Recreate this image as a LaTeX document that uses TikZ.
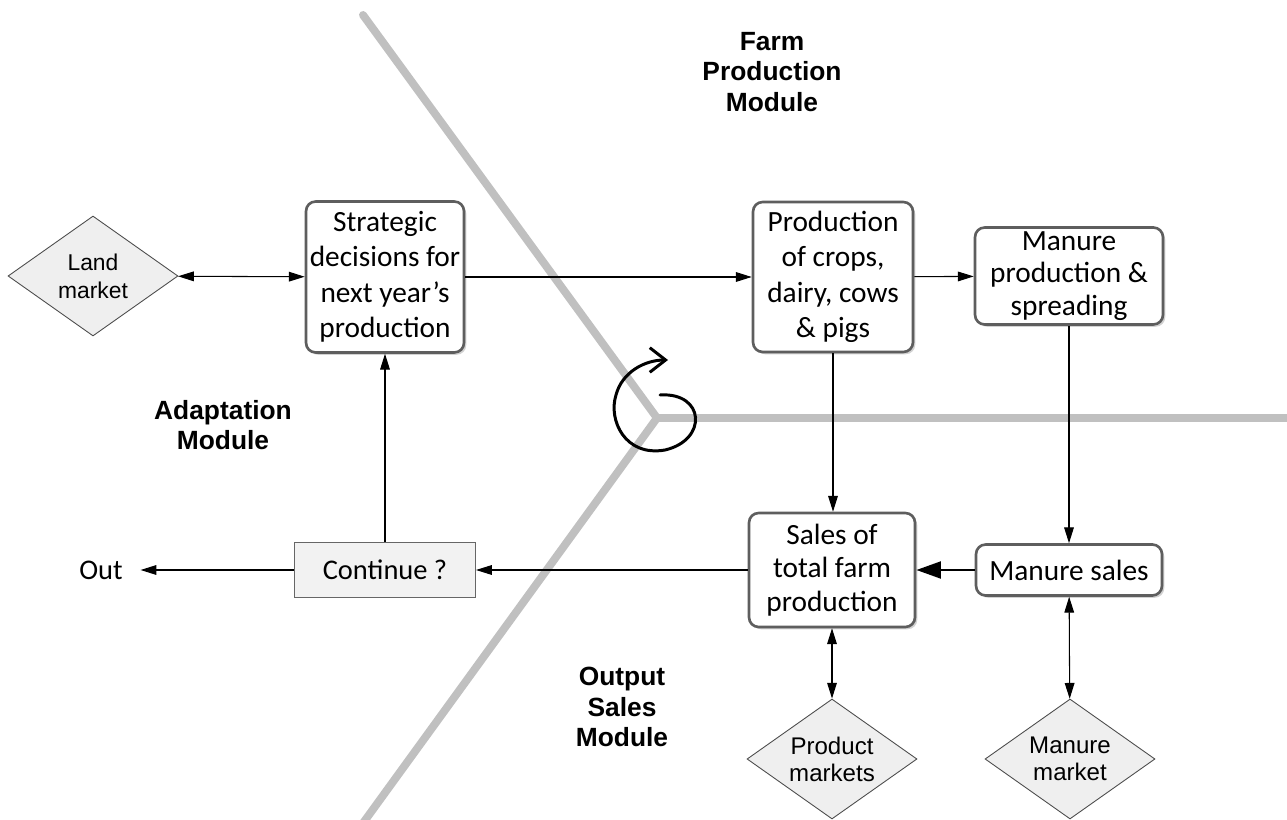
\documentclass[tikz,border=0pt]{standalone}
\usepackage{fontspec}
\setmainfont{Carlito}
\newfontfamily\arialfont{Liberation Sans}
\usetikzlibrary{arrows.meta,shapes.geometric,shadows}

\begin{document}
\begin{tikzpicture}[x=0.02cm,y=-0.02cm]
  % Colours of the three-module loop.
  \definecolor{divider}{HTML}{C0C0C0}
  \definecolor{boxline}{HTML}{5E5E5E}
  \definecolor{marketfill}{HTML}{EFEFEF}
  \useasboundingbox (0,0) rectangle (1287,820);
  \clip (0,0) rectangle (1287,820);

  % Module borders meet in one hub.
  \coordinate (hub) at (657,418);
  \draw[divider,line width=4.5pt,line cap=round] (363,15) -- (hub) -- (1300,418);
  \draw[divider,line width=4.5pt,line cap=round] (hub) -- (358,830);

  \tikzset{
    task/.style={draw=boxline, line width=1.5pt, rounded corners=5.5pt, fill=white,
      align=center, inner sep=2pt, font=\fontsize{16.7}{20.2}\selectfont,
      drop shadow={shadow xshift=1.3pt, shadow yshift=-1.3pt, fill=black!35}},
    market/.style={diamond, draw=black!70, line width=0.5pt, fill=marketfill, aspect=1.43,
      inner sep=0pt, minimum width=3.4cm, minimum height=2.4cm, align=center,
      font=\arialfont\fontsize{13.7}{15.4}\selectfont},
    modname/.style={align=center, font=\arialfont\bfseries\fontsize{15}{17.5}\selectfont},
    link/.style={line width=0.6pt, -{Triangle[length=9pt,width=5.5pt]}},
    twoway/.style={line width=0.6pt, {Triangle[length=9pt,width=5.5pt]}-{Triangle[length=9pt,width=5.5pt]}}
  }

  % Adaptation side
  \node[market, font=\arialfont\fontsize{13}{15.9}\selectfont] (land) at (93,276) {Land\\market};
  \node[task, minimum width=3.16cm, minimum height=3.02cm] (strategic) at (385,277)
    {Strategic\\decisions for\\next year's\\production};
  \node[draw=black!60, line width=0.6pt, fill=black!5, minimum width=3.62cm, minimum height=1.1cm,
    font=\fontsize{16.2}{19}\selectfont] (continue) at (385,570) {Continue ?};
  \node[inner xsep=10pt, font=\fontsize{16.2}{19}\selectfont] (out) at (101,570) {Out};

  % Farm production side
  \node[task, minimum width=3.2cm, minimum height=3cm] (crops) at (833,277)
    {Production\\of crops,\\dairy, cows\\\& pigs};
  \node[task, minimum width=3.76cm, minimum height=1.94cm, font=\fontsize{16.7}{18.4}\selectfont]
    (spreading) at (1069,276) {Manure\\production \&\\spreading};

  % Output sales side
  \node[task, minimum width=3.32cm, minimum height=2.28cm, font=\fontsize{16.7}{19}\selectfont]
    (sales) at (832,570) {Sales of\\total farm\\production};
  \node[task, minimum width=3.72cm, minimum height=1.02cm] (manuresales) at (1069,570) {Manure sales};
  \node[market] (productmkt) at (832,759) {Product\\markets};
  \node[market] (manuremkt) at (1070,759) {Manure\\market};

  \draw[twoway] (land) -- (strategic);
  \draw[link] (strategic) -- (crops);
  \draw[link] (crops) -- (spreading);
  \draw[link] (spreading) -- (manuresales);
  \draw[link] (crops.south) -- (crops.south |- sales.north);
  \draw[line width=1.7pt, -{Triangle[length=14pt,width=9.5pt]}] (manuresales) -- (sales);
  \draw[twoway] (sales) -- (productmkt);
  \draw[twoway] (manuresales) -- (manuremkt);
  \draw[link] (sales) -- (continue);
  \draw[link] (continue) -- (out);
  \draw[link] (continue) -- (strategic);

  % Yearly loop mark at the hub
  \draw[line width=1.7pt, line cap=round, -{Straight Barb[length=9pt,width=14pt]}]
    (660,395) .. controls (705,392) and (708,440) .. (665,450)
    .. controls (625,457) and (608,420) .. (616,395)
    .. controls (622,372) and (645,360) .. (668,360);

  % Module names
  \node[modname] (farmmod) at (772,72) {Farm\\Production\\Module};
  \node[modname] (adaptmod) at (223,425) {Adaptation\\Module};
  \node[modname] (salesmod) at (622,707) {Output\\Sales\\Module};
\end{tikzpicture}
\end{document}
